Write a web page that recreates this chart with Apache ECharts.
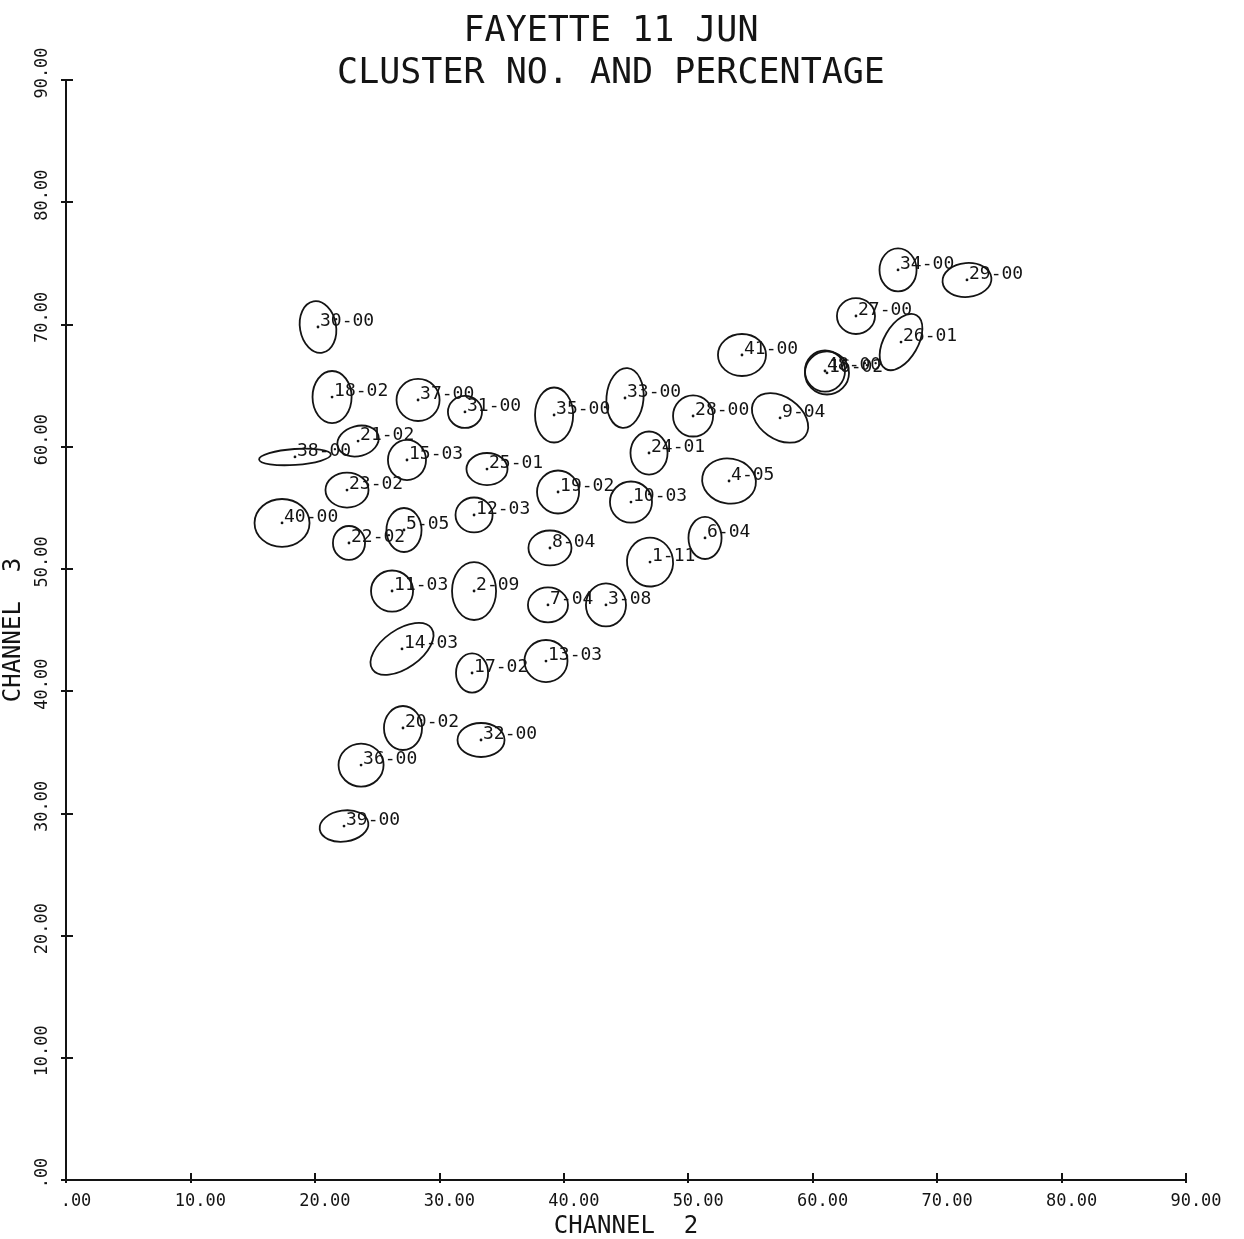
<!DOCTYPE html>
<html>
<head>
<meta charset="utf-8">
<script src="https://cdn.jsdelivr.net/npm/echarts@6/dist/echarts.min.js"></script>
<style>
  html, body { margin: 0; padding: 0; background: #ffffff; }
  #chart { width: 1244px; height: 1239px; }
</style>
</head>
<body>
<div id="chart"></div>
<script>
// ---- data ----
var clusterId  = [1, 2, 3, 4, 5, 6, 7, 8, 9, 10, 11, 12, 13, 14, 15, 16, 17, 18, 19, 20, 21, 22, 23, 24, 25, 26, 27, 28, 29, 30, 31, 32, 33, 34, 35, 36, 37, 38, 39, 40, 41, 48];
var clusterPct = ['11','09','08','05','05','04','04','04','04','03','03','03','03','03','03','02','02','02','02','02','02','02','02','01','01','01','00','00','00','00','00','00','00','00','00','00','00','00','00','00','00','00'];
// cluster centre, channel 2 (x)
var channel2   = [46.93, 32.79, 43.39, 53.28, 27.16, 51.35, 38.73, 38.89, 57.38, 45.40, 26.20, 32.79, 38.57, 27.00, 27.40, 61.15, 32.63, 21.38, 39.54, 27.08, 23.47, 22.74, 22.58, 46.85, 33.83, 67.10, 63.48, 50.39, 72.40, 20.25, 32.06, 33.35, 44.92, 66.86, 39.22, 23.71, 28.29, 18.40, 22.34, 17.36, 54.32, 60.99];
// cluster centre, channel 3 (y)
var channel3   = [50.56, 48.19, 47.05, 57.19, 53.18, 52.53, 47.05, 51.71, 62.35, 55.47, 48.19, 54.41, 42.46, 43.45, 58.91, 66.03, 41.48, 64.06, 56.29, 36.98, 60.46, 52.12, 56.45, 59.48, 58.17, 68.56, 70.69, 62.51, 73.64, 69.79, 62.84, 36.00, 63.98, 74.46, 62.59, 33.95, 63.82, 59.16, 28.96, 53.76, 67.50, 66.19];
// ellipse semi-axes (data units) and tilt (degrees)
var spread2    = [1.85, 1.77, 1.61, 2.17, 1.41, 1.33, 1.61, 1.73, 2.49, 1.69, 1.69, 1.49, 1.73, 2.89, 1.53, 1.77, 1.29, 1.57, 1.69, 1.53, 1.69, 1.29, 1.73, 1.49, 1.65, 2.49, 1.53, 1.61, 1.97, 1.45, 1.37, 1.89, 1.49, 1.49, 1.53, 1.81, 1.73, 2.89, 1.97, 2.21, 1.93, 1.61];
var spread3    = [2.00, 2.37, 1.76, 1.84, 1.80, 1.72, 1.43, 1.43, 1.72, 1.68, 1.68, 1.43, 1.72, 1.58, 1.64, 1.76, 1.60, 2.13, 1.76, 1.80, 1.23, 1.39, 1.43, 1.76, 1.31, 1.39, 1.47, 1.68, 1.39, 2.13, 1.31, 1.39, 2.45, 1.76, 2.25, 1.76, 1.72, 0.65, 1.27, 1.96, 1.72, 1.68];
var tiltDeg    = [8, 0, 0, -10, 0, 0, 0, 0, -35, 0, 0, 0, 0, 35, 0, 0, 0, 0, 0, 0, 15, 0, 0, 0, 0, 60, 0, 0, 5, 10, 0, 0, -5, 0, 0, 0, 0, 4, 8, 0, 0, 0];
var axisTicks  = [0, 10, 20, 30, 40, 50, 60, 70, 80, 90];
var titleLines = ['FAYETTE 11 JUN', 'CLUSTER NO. AND PERCENTAGE'];
var xName = 'CHANNEL  2';
var yName = 'CHANNEL  3';

// ---- build chart ----
var INK = '#141414';
var FONT = 'DejaVu Sans Mono';
var seriesData = clusterId.map(function (id, i) {
  return [channel2[i], channel3[i], spread2[i], spread3[i], tiltDeg[i]];
});
function tickFmt(v) { return v === 0 ? '.00' : v.toFixed(2); }
var tickMin = axisTicks[0], tickMax = axisTicks[axisTicks.length - 1];
var tickStep = axisTicks[1] - axisTicks[0];

var chart = echarts.init(document.getElementById('chart'), null, { renderer: 'canvas' });
chart.setOption({
  backgroundColor: '#ffffff',
  animation: false,
  title: {
    text: titleLines.join('\n'),
    left: 606, top: 6, textAlign: 'center',
    textStyle: { fontFamily: FONT, fontSize: 35, fontWeight: 'normal', color: INK, lineHeight: 42 }
  },
  grid: { left: 66, right: 58, top: 80, bottom: 59, containLabel: false, outerBoundsMode: 'none' },
  xAxis: [{
    type: 'value', min: tickMin, max: tickMax, interval: tickStep,
    name: xName, nameLocation: 'middle', nameGap: 31,
    nameTextStyle: { fontFamily: FONT, fontSize: 24, color: INK },
    axisLine: { show: true, onZero: false, lineStyle: { color: INK, width: 2 } },
    axisTick: { show: true, inside: true, length: 7, lineStyle: { color: INK, width: 2 } },
    axisLabel: { formatter: tickFmt, fontFamily: FONT, fontSize: 17, color: INK, margin: 13, padding: [0, 0, 0, 20] },
    splitLine: { show: false }
  }, {
    type: 'value', min: tickMin, max: tickMax, interval: tickStep, position: 'bottom',
    axisLine: { show: false }, axisLabel: { show: false }, splitLine: { show: false },
    axisTick: { show: true, inside: false, length: 3, lineStyle: { color: INK, width: 2 } }
  }],
  yAxis: [{
    type: 'value', min: tickMin, max: tickMax, interval: tickStep,
    name: yName, nameLocation: 'middle', nameGap: 25, nameRotate: 90,
    nameTextStyle: { fontFamily: FONT, fontSize: 24, color: INK },
    axisLine: { show: true, onZero: false, lineStyle: { color: INK, width: 2 } },
    axisTick: { show: true, inside: true, length: 7, lineStyle: { color: INK, width: 2 } },
    axisLabel: { formatter: tickFmt, rotate: 90, fontFamily: FONT, fontSize: 17, color: INK, margin: 15, padding: [0, 0, 0, 14] },
    splitLine: { show: false }
  }, {
    type: 'value', min: tickMin, max: tickMax, interval: tickStep, position: 'left',
    axisLine: { show: false }, axisLabel: { show: false }, splitLine: { show: false },
    axisTick: { show: true, inside: false, length: 5, lineStyle: { color: INK, width: 2 } }
  }],
  series: [{
    type: 'custom',
    xAxisIndex: 0, yAxisIndex: 0,
    clip: false,
    data: seriesData,
    renderItem: function (params, api) {
      var i = params.dataIndex;
      var c = api.coord([api.value(0), api.value(1)]);
      var s = api.size([api.value(2), api.value(3)]);
      var rot = api.value(4) * Math.PI / 180;
      return {
        type: 'group',
        children: [{
          type: 'ellipse',
          x: c[0], y: c[1], rotation: rot,
          shape: { cx: 0, cy: 0, rx: s[0], ry: s[1] },
          style: { fill: 'none', stroke: INK, lineWidth: 1.8 }
        }, {
          type: 'circle',
          shape: { cx: c[0], cy: c[1], r: 1.4 },
          style: { fill: INK }
        }, {
          type: 'text',
          x: c[0] + 2, y: c[1] - 6,
          style: {
            text: clusterId[i] + '-' + clusterPct[i],
            fill: INK, font: '18px "' + FONT + '"',
            align: 'left', verticalAlign: 'middle'
          }
        }]
      };
    }
  }]
});
</script>
</body>
</html>
